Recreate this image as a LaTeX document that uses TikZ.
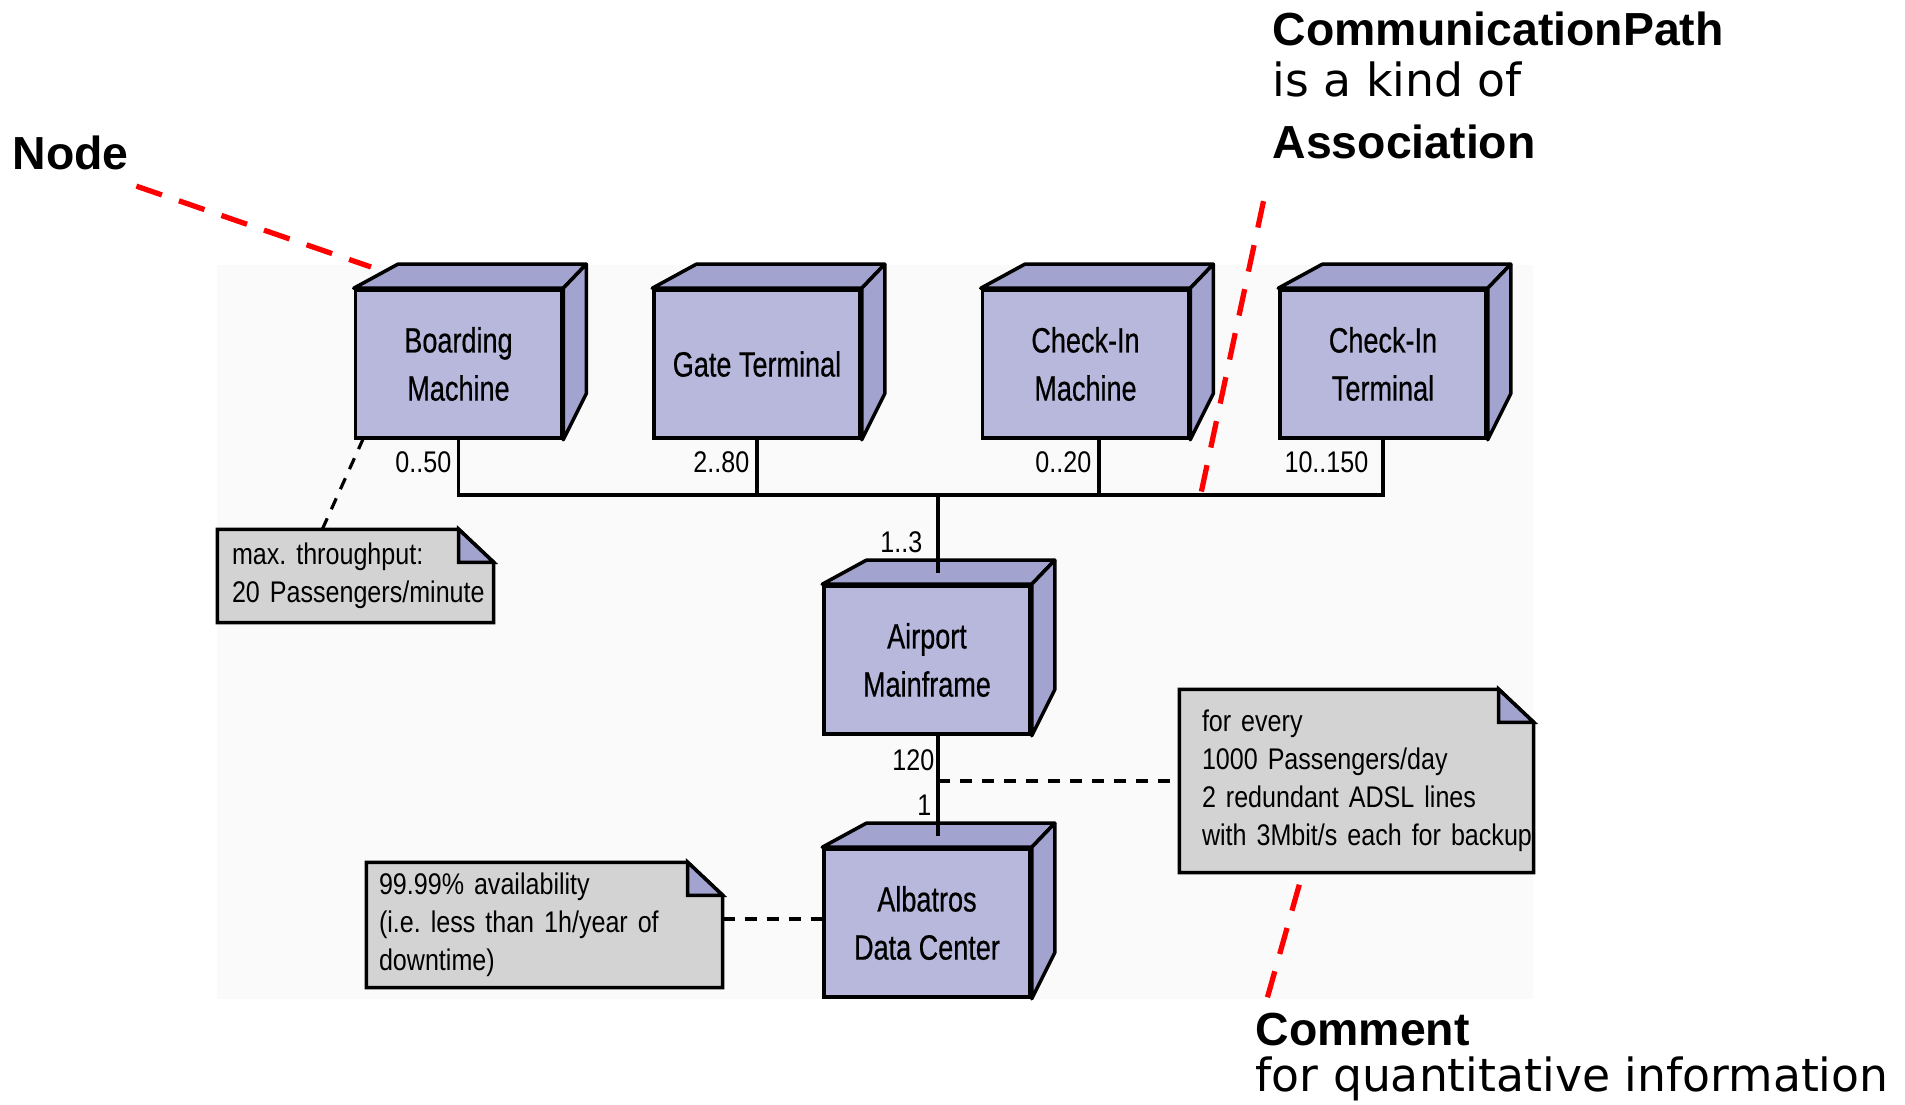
\documentclass[tikz,border=0pt]{standalone}
\usepackage{fontspec}
\setmainfont{Liberation Sans}
\newfontfamily\boxfont[FakeStretch=0.77,FakeBold=0.5]{Liberation Sans}
\newfontfamily\notefont[FakeStretch=0.84]{Liberation Sans}
\newfontfamily\callfont{DejaVu Sans}
\newcommand\notespacing{\frenchspacing\spaceskip=0.22em plus 0.1em\relax}
\usetikzlibrary{positioning,calc,backgrounds}
\definecolor{devfront}{RGB}{184,184,220}
\definecolor{devside}{RGB}{163,163,208}
\definecolor{notegray}{RGB}{211,211,211}
\definecolor{canvas}{RGB}{250,250,250}

\begin{document}
\begin{tikzpicture}[x=0.1mm, y=-0.1mm, dev/.style = {rectangle, draw, line width=1pt, fill=devfront, minimum width=20.6mm, minimum height=14.8mm, inner sep=0pt, align=center, font=\boxfont\fontsize{10}{13.7}\selectfont}, devface/.style = {draw, line width=1pt, fill=devside, line join=round}, note/.style = {rectangle, align=left, inner ysep=0pt, font=\notefont\fontsize{8.5}{10.8}\selectfont\notespacing}, notebox/.style = {draw, line width=1pt, fill=notegray}, mult/.style = {inner sep=0pt, anchor=base east, font=\notefont\fontsize{8.5}{10}\selectfont}, link/.style = {line width=0.9pt}, comment link/.style = {line width=0.9pt, dash pattern=on 1.2mm off 1mm}, callout/.style = {red, line width=1.5pt, dash pattern=on 2.7mm off 1.8mm}, hint/.style = {inner sep=0pt, anchor=base west, font=\fontsize{13.2}{15}\selectfont\bfseries}, hint plain/.style = {inner sep=0pt, anchor=base west, font=\callfont\fontsize{13}{15}\selectfont}]

\useasboundingbox (0,0) rectangle (1905,1105);

% deployment nodes
\node[dev] (bm) at (458.5,364) {Boarding\\Machine};
\node[dev] (gt) at (757,364) {Gate Terminal};
\node[dev] (cim) at (1085.5,364) {Check-In\\Machine};
\node[dev] (cit) at (1383,364) {Check-In\\Terminal};
\node[dev] (am) at (927,660) {Airport\\Mainframe};
\node[dev] (adc) at (927,923) {Albatros\\Data Center};

\foreach \n in {bm,gt,cim,cit,am,adc} {
 \filldraw[devface] (\n.north west) -- ++(44,-24) -- ($(\n.north east)+(23,-24)$) -- (\n.north east) -- cycle;
 \filldraw[devface] (\n.north east) -- ++(23,-24) -- ($(\n.south east)+(23,-46)$) -- (\n.south east) -- cycle;
}

% comments
\node[note, text width=24.7mm, inner xsep=1.4mm, minimum height=9.2mm] (n1) at (355.5,576) {max. throughput:\\\mbox{20 Passengers/minute}};
\node[note, text width=33.1mm, inner xsep=1.2mm, minimum height=12.4mm] (n2) at (544.5,925) {99.99\% availability\\(i.e. less than 1h/year of\\downtime)};
\node[note, text width=30.9mm, inner xsep=2.2mm, minimum height=18.2mm] (n3) at (1356.5,781) {for every\\1000 Passengers/day\\2 redundant ADSL lines\\\mbox{with 3Mbit/s each for backup}};

\begin{scope}[on background layer]
\fill[canvas] (217,265) rectangle (1533,999);
\foreach \n in {n1,n2,n3} {
 \filldraw[notebox] (\n.north west) -- ($(\n.north east)+(-35,0)$) -- ($(\n.north east)+(0,33)$) -- (\n.south east) -- (\n.south west) -- cycle;
 \filldraw[notebox, fill=devside] ($(\n.north east)+(-35,0)$) -- ++(0,33) -- ++(35,0) -- cycle;
}
\end{scope}

% communication paths
\coordinate (hub) at (938,495);
\coordinate (cimport) at ($(cim.south)+(13.5,0)$);
\coordinate (amport) at ($(am.south)+(11,0)$);
\draw[link] (bm.south) |- (hub) -| (cit.south);
\draw[link] (gt.south) -- (gt.south |- hub);
\draw[link] (cimport) -- (cimport |- hub);
\draw[link] (hub) -- ($(am.north)+(11,-11)$);
\draw[link] (amport) -- ($(adc.north)+(11,-11)$);

\node[mult] (mbm) at (452,473) {0..50};
\node[mult] (mgt) at (750,473) {2..80};
\node[mult] (mcim) at (1092,473) {0..20};
\node[mult] (mcit) at (1369,473) {10..150};
\node[mult] (mam) at (923,553) {1..3};
\node[mult] (mamb) at (935,771) {120};
\node[mult] (madc) at (932,816) {1};

% comment anchors
\coordinate (tap) at (amport |- n3.west);
\draw[comment link] (tap) -- (n3.west);
\draw[comment link] ([yshift=0.6mm]n2.east) -- ([yshift=0.6mm]n2.east -| adc.west);
\draw[comment link] ($(n1.north west)+(105,0)$) -- ($(bm.south west)+(9,0)$);

% callouts
\node[hint] (lnode) at (12,170) {Node};
\node[hint] (lcp) at (1272,46) {CommunicationPath};
\node[hint plain] (lkind) at (1272,97) {is a kind of};
\node[hint] (lassoc) at (1272,159) {Association};
\node[hint] (lcomment) at (1255,1046) {Comment};
\node[hint plain] (lquant) at (1255,1092) {for quantitative information};

\coordinate (cnode) at (371,267);
\coordinate (cbus) at (1200,498);
\coordinate (cnote) at ($(n3.south west)+(120,12)$);
\draw[callout] ($(lnode.south east)+(7,15)$) -- (cnode);
\draw[callout] ($(lassoc.south west)+(-8.5,41)$) -- (cbus);
\draw[callout] (cnote) -- ($(lcomment.north west)+(12,-14)$);
\end{tikzpicture}
\end{document}
